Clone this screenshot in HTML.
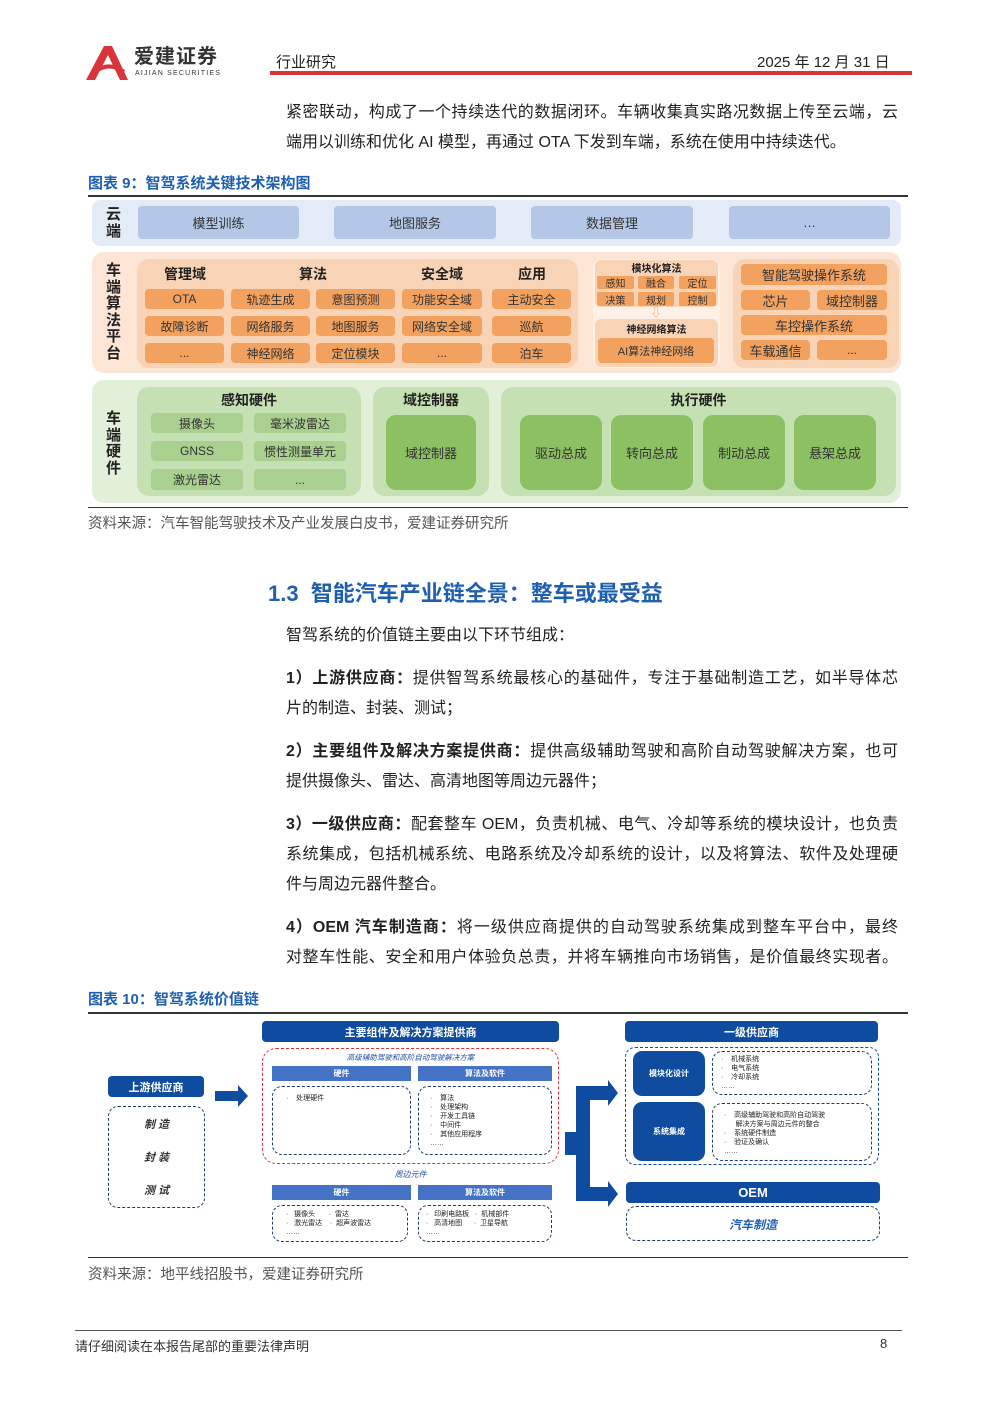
<!DOCTYPE html>
<html><head><meta charset="utf-8"><style>
*{margin:0;padding:0;box-sizing:border-box}
body{width:992px;height:1403px;background:#fff;position:relative;font-family:"Liberation Sans","Noto Sans CJK SC",sans-serif;color:#222;overflow:hidden}
.a{position:absolute}
.c{position:absolute;display:flex;align-items:center;justify-content:center;text-align:center;white-space:nowrap}
.p{position:absolute;left:286px;width:612px;font-size:16px;line-height:30px;text-align:justify;text-align-last:justify;color:#222}
.p.l{text-align-last:left}
.ob{background:#f2a15f;border-radius:4px;font-size:12px;color:#333}
.gb{background:#a9d08e;border-radius:4px;font-size:12px;color:#333}
.gB{background:#8cc063;border-radius:10px;font-size:13px;color:#333}
.bb{background:#b4c7e7;border-radius:4px;font-size:13px;color:#333}
.db{background:#0f4b9f;color:#fff;font-weight:bold;border-radius:4px;font-size:11px}
.mb{background:#4472c4;color:#fff;font-weight:bold;font-size:8px}
.dash{position:absolute;border:1.3px dashed #1f3a6b;border-radius:10px}
.sm{font-size:7px;line-height:9px;color:#222;position:absolute}
</style></head><body>
<!-- header -->
<svg class="a" style="left:86px;top:46px" width="42" height="34"><path d="M0 34 L18 0 L26 0 L42 34 L34 34 L22 9 L9 34Z" fill="#d9343a"/><path d="M6 28 Q22 14 38 26" stroke="#d9343a" stroke-width="4" fill="none"/></svg>
<div class="a" style="left:134px;top:45px;font-size:20px;line-height:24px;font-weight:bold;color:#333;letter-spacing:1px">爱建证券</div>
<div class="a" style="left:135px;top:70px;font-size:7px;line-height:8px;color:#333;letter-spacing:1.2px">AIJIAN SECURITIES</div>
<div class="a" style="left:276px;top:51px;font-size:15px;color:#222">行业研究</div>
<div class="a" style="left:757px;top:51px;font-size:15px;color:#222">2025 年 12 月 31 日</div>
<div class="a" style="left:270px;top:71px;width:642px;height:4px;background:#d9343a"></div>

<div class="p" style="top:98px">紧密联动，构成了一个持续迭代的数据闭环。车辆收集真实路况数据上传至云端，云</div>
<div class="p l" style="top:128px">端用以训练和优化 AI 模型，再通过 OTA 下发到车端，系统在使用中持续迭代。</div>

<div class="a" style="left:88px;top:172px;font-size:15px;font-weight:bold;color:#1f5fb0">图表 9：智驾系统关键技术架构图</div>
<div class="a" style="left:88px;top:195px;width:820px;height:2px;background:#333"></div>

<!-- cloud -->
<div class="a" style="left:92px;top:200px;width:809px;height:46px;background:#e3ebf7;border-radius:8px"></div>
<div class="a" style="left:106px;top:206px;width:18px;font-size:15px;font-weight:bold;line-height:17px">云端</div>
<div class="c bb" style="left:138px;top:206px;width:161px;height:33px">模型训练</div>
<div class="c bb" style="left:334px;top:206px;width:162px;height:33px">地图服务</div>
<div class="c bb" style="left:531px;top:206px;width:162px;height:33px">数据管理</div>
<div class="c bb" style="left:729px;top:206px;width:161px;height:33px">…</div>

<!-- platform -->
<div class="a" style="left:92px;top:252px;width:809px;height:121px;background:#fce5d4;border-radius:12px"></div>
<div class="a" style="left:106px;top:263px;width:18px;font-size:15px;font-weight:bold;line-height:16.5px">车端算法平台</div>
<div class="a" style="left:137px;top:259px;width:441px;height:109px;background:#f9d3b6;border-radius:12px"></div>
<div class="c" style="left:145px;top:264px;width:80px;height:20px;font-size:14px;font-weight:bold">管理域</div>
<div class="c" style="left:231px;top:264px;width:164px;height:20px;font-size:14px;font-weight:bold">算法</div>
<div class="c" style="left:402px;top:264px;width:80px;height:20px;font-size:14px;font-weight:bold">安全域</div>
<div class="c" style="left:492px;top:264px;width:80px;height:20px;font-size:14px;font-weight:bold">应用</div>
<div class="c ob" style="left:145px;top:289px;width:79px;height:20px">OTA</div>
<div class="c ob" style="left:231px;top:289px;width:79px;height:20px">轨迹生成</div>
<div class="c ob" style="left:316px;top:289px;width:79px;height:20px">意图预测</div>
<div class="c ob" style="left:402px;top:289px;width:80px;height:20px">功能安全域</div>
<div class="c ob" style="left:492px;top:289px;width:79px;height:20px">主动安全</div>
<div class="c ob" style="left:145px;top:316px;width:79px;height:20px">故障诊断</div>
<div class="c ob" style="left:231px;top:316px;width:79px;height:20px">网络服务</div>
<div class="c ob" style="left:316px;top:316px;width:79px;height:20px">地图服务</div>
<div class="c ob" style="left:402px;top:316px;width:80px;height:20px">网络安全域</div>
<div class="c ob" style="left:492px;top:316px;width:79px;height:20px">巡航</div>
<div class="c ob" style="left:145px;top:343px;width:79px;height:20px">...</div>
<div class="c ob" style="left:231px;top:343px;width:79px;height:20px">神经网络</div>
<div class="c ob" style="left:316px;top:343px;width:79px;height:20px">定位模块</div>
<div class="c ob" style="left:402px;top:343px;width:80px;height:20px">...</div>
<div class="c ob" style="left:492px;top:343px;width:79px;height:20px">泊车</div>

<div class="a" style="left:593px;top:259px;width:127px;height:109px;background:#fdf0e6;border-radius:8px"></div>
<div class="a" style="left:595px;top:260px;width:123px;height:47px;background:#f9d3b6;border-radius:6px"></div>
<div class="c" style="left:595px;top:261px;width:123px;height:13px;font-size:10px;font-weight:bold">模块化算法</div>
<div class="c ob" style="left:597px;top:276px;width:37px;height:13px;font-size:10px;border-radius:2px">感知</div>
<div class="c ob" style="left:638px;top:276px;width:36px;height:13px;font-size:10px;border-radius:2px">融合</div>
<div class="c ob" style="left:679px;top:276px;width:37px;height:13px;font-size:10px;border-radius:2px">定位</div>
<div class="c ob" style="left:597px;top:292px;width:37px;height:14px;font-size:10px;border-radius:2px">决策</div>
<div class="c ob" style="left:638px;top:292px;width:36px;height:14px;font-size:10px;border-radius:2px">规划</div>
<div class="c ob" style="left:679px;top:292px;width:37px;height:14px;font-size:10px;border-radius:2px">控制</div>
<div class="c" style="left:648px;top:306px;width:16px;height:12px;font-size:11px;color:#f2a15f">⇩</div>
<div class="a" style="left:595px;top:319px;width:123px;height:48px;background:#f9d3b6;border-radius:6px"></div>
<div class="c" style="left:595px;top:321px;width:123px;height:14px;font-size:10px;font-weight:bold">神经网络算法</div>
<div class="c ob" style="left:598px;top:338px;width:116px;height:25px;font-size:11px">AI算法神经网络</div>

<div class="a" style="left:733px;top:259px;width:166px;height:109px;background:#f9d3b6;border-radius:12px"></div>
<div class="c ob" style="left:741px;top:264px;width:146px;height:21px;font-size:13px">智能驾驶操作系统</div>
<div class="c ob" style="left:741px;top:290px;width:69px;height:20px;font-size:13px">芯片</div>
<div class="c ob" style="left:817px;top:290px;width:70px;height:20px;font-size:13px">域控制器</div>
<div class="c ob" style="left:741px;top:315px;width:146px;height:20px;font-size:13px">车控操作系统</div>
<div class="c ob" style="left:741px;top:340px;width:69px;height:20px;font-size:13px">车载通信</div>
<div class="c ob" style="left:817px;top:340px;width:70px;height:20px">...</div>

<!-- hardware -->
<div class="a" style="left:92px;top:380px;width:809px;height:123px;background:#e2efd9;border-radius:12px"></div>
<div class="a" style="left:106px;top:411px;width:18px;font-size:15px;font-weight:bold;line-height:16.5px">车端硬件</div>
<div class="a" style="left:137px;top:387px;width:224px;height:109px;background:#c5e0b3;border-radius:12px"></div>
<div class="c" style="left:137px;top:390px;width:224px;height:20px;font-size:14px;font-weight:bold">感知硬件</div>
<div class="c gb" style="left:151px;top:413px;width:92px;height:20px">摄像头</div>
<div class="c gb" style="left:254px;top:413px;width:92px;height:20px">毫米波雷达</div>
<div class="c gb" style="left:151px;top:441px;width:92px;height:20px">GNSS</div>
<div class="c gb" style="left:254px;top:441px;width:92px;height:20px">惯性测量单元</div>
<div class="c gb" style="left:151px;top:469px;width:92px;height:21px">激光雷达</div>
<div class="c gb" style="left:254px;top:469px;width:92px;height:21px">...</div>
<div class="a" style="left:373px;top:387px;width:116px;height:109px;background:#c5e0b3;border-radius:12px"></div>
<div class="c" style="left:373px;top:390px;width:116px;height:20px;font-size:14px;font-weight:bold">域控制器</div>
<div class="c gB" style="left:386px;top:415px;width:90px;height:75px">域控制器</div>
<div class="a" style="left:501px;top:387px;width:395px;height:109px;background:#c5e0b3;border-radius:12px"></div>
<div class="c" style="left:501px;top:390px;width:395px;height:20px;font-size:14px;font-weight:bold">执行硬件</div>
<div class="c gB" style="left:520px;top:415px;width:82px;height:75px">驱动总成</div>
<div class="c gB" style="left:611px;top:415px;width:82px;height:75px">转向总成</div>
<div class="c gB" style="left:703px;top:415px;width:82px;height:75px">制动总成</div>
<div class="c gB" style="left:794px;top:415px;width:82px;height:75px">悬架总成</div>
<div class="a" style="left:88px;top:507px;width:820px;height:1px;background:#333"></div>
<div class="a" style="left:88px;top:512px;font-size:14.5px;color:#555">资料来源：汽车智能驾驶技术及产业发展白皮书，爱建证券研究所</div>

<div class="a" style="left:268px;top:576px;font-size:22px;font-weight:bold;color:#1f5fb0">1.3&nbsp; 智能汽车产业链全景：整车或最受益</div>
<div class="p l" style="top:621px">智驾系统的价值链主要由以下环节组成：</div>
<div class="p" style="top:664px"><b>1）上游供应商：</b>提供智驾系统最核心的基础件，专注于基础制造工艺，如半导体芯</div>
<div class="p l" style="top:694px">片的制造、封装、测试；</div>
<div class="p" style="top:737px"><b>2）主要组件及解决方案提供商：</b>提供高级辅助驾驶和高阶自动驾驶解决方案，也可</div>
<div class="p l" style="top:767px">提供摄像头、雷达、高清地图等周边元器件；</div>
<div class="p" style="top:810px"><b>3）一级供应商：</b>配套整车 OEM，负责机械、电气、冷却等系统的模块设计，也负责</div>
<div class="p" style="top:840px">系统集成，包括机械系统、电路系统及冷却系统的设计，以及将算法、软件及处理硬</div>
<div class="p l" style="top:870px">件与周边元器件整合。</div>
<div class="p" style="top:913px"><b>4）OEM 汽车制造商：</b>将一级供应商提供的自动驾驶系统集成到整车平台中，最终</div>
<div class="p" style="top:943px">对整车性能、安全和用户体验负总责，并将车辆推向市场销售，是价值最终实现者。</div>

<div class="a" style="left:88px;top:988px;font-size:15px;font-weight:bold;color:#1f5fb0">图表 10：智驾系统价值链</div>
<div class="a" style="left:88px;top:1012px;width:820px;height:2px;background:#333"></div>

<!-- diagram 2 -->
<div class="c db" style="left:108px;top:1076px;width:96px;height:21px;font-size:11px">上游供应商</div>
<div class="dash" style="left:108px;top:1106px;width:97px;height:102px"></div>
<div class="c" style="left:108px;top:1116px;width:97px;height:16px;font-size:11px;font-style:italic;font-weight:bold;color:#333">制 造</div>
<div class="c" style="left:108px;top:1149px;width:97px;height:16px;font-size:11px;font-style:italic;font-weight:bold;color:#333">封 装</div>
<div class="c" style="left:108px;top:1182px;width:97px;height:16px;font-size:11px;font-style:italic;font-weight:bold;color:#333">测 试</div>
<svg class="a" style="left:214px;top:1084px" width="36" height="24"><path d="M1 7 H24 V1 L34 12 L24 23 V17 H1Z" fill="#0f4b9f"/></svg>

<div class="c db" style="left:262px;top:1021px;width:297px;height:21px">主要组件及解决方案提供商</div>
<div class="a" style="left:262px;top:1048px;width:297px;height:116px;border:1.3px dashed #e0303a;border-radius:14px"></div>
<div class="c" style="left:262px;top:1051px;width:297px;height:12px;font-size:7.5px;font-style:italic;color:#1f4fa0">高级辅助驾驶和高阶自动驾驶解决方案</div>
<div class="c mb" style="left:272px;top:1066px;width:139px;height:15px">硬件</div>
<div class="c mb" style="left:418px;top:1066px;width:134px;height:15px">算法及软件</div>
<div class="dash" style="left:272px;top:1086px;width:139px;height:69px"></div>
<div class="dash" style="left:418px;top:1086px;width:134px;height:69px"></div>
<div class="sm" style="left:286px;top:1094px">·&nbsp;&nbsp;&nbsp; 处理硬件</div>
<div class="sm" style="left:430px;top:1094px">·&nbsp;&nbsp;&nbsp; 算法<br>·&nbsp;&nbsp;&nbsp; 处理架构<br>·&nbsp;&nbsp;&nbsp; 开发工具链<br>·&nbsp;&nbsp;&nbsp; 中间件<br>·&nbsp;&nbsp;&nbsp; 其他应用程序<br>……</div>
<div class="c" style="left:262px;top:1168px;width:297px;height:12px;font-size:8px;font-style:italic;color:#1f4fa0">周边元件</div>
<div class="c mb" style="left:272px;top:1185px;width:139px;height:15px">硬件</div>
<div class="c mb" style="left:418px;top:1185px;width:134px;height:15px">算法及软件</div>
<div class="dash" style="left:272px;top:1205px;width:136px;height:37px"></div>
<div class="dash" style="left:418px;top:1205px;width:134px;height:37px"></div>
<div class="sm" style="left:286px;top:1210px">·&nbsp;&nbsp; 摄像头&nbsp;&nbsp;&nbsp;&nbsp;&nbsp;&nbsp; ·&nbsp; 雷达<br>·&nbsp;&nbsp; 激光雷达&nbsp;&nbsp;&nbsp; ·&nbsp; 超声波雷达<br>……</div>
<div class="sm" style="left:426px;top:1210px">·&nbsp;&nbsp; 印刷电路板&nbsp;&nbsp; ·&nbsp; 机械部件<br>·&nbsp;&nbsp; 高清地图&nbsp;&nbsp;&nbsp;&nbsp;&nbsp; ·&nbsp; 卫星导航<br>……</div>

<svg class="a" style="left:565px;top:1078px" width="56" height="130"><path d="M0 54 H11 V8 H43 V2 L53 15 L43 28 V22 H25 V109 H43 V103 L53 116 L43 129 V123 H11 V77 H0Z" fill="#0f4b9f"/></svg>

<div class="c db" style="left:625px;top:1021px;width:253px;height:21px">一级供应商</div>
<div class="dash" style="left:625px;top:1047px;width:254px;height:118px;border-color:#0f4b9f"></div>
<div class="c db" style="left:633px;top:1051px;width:72px;height:45px;font-size:8px;border-radius:9px">模块化设计</div>
<div class="c db" style="left:633px;top:1102px;width:72px;height:59px;font-size:8px;border-radius:9px">系统集成</div>
<div class="dash" style="left:712px;top:1051px;width:160px;height:44px"></div>
<div class="dash" style="left:712px;top:1103px;width:160px;height:58px"></div>
<div class="sm" style="left:721px;top:1055px">·&nbsp;&nbsp;&nbsp; 机械系统<br>·&nbsp;&nbsp;&nbsp; 电气系统<br>·&nbsp;&nbsp;&nbsp; 冷却系统<br>……</div>
<div class="sm" style="left:724px;top:1111px">·&nbsp;&nbsp;&nbsp; 高级辅助驾驶和高阶自动驾驶<br>&nbsp;&nbsp;&nbsp;&nbsp;&nbsp; 解决方案与周边元件的整合<br>·&nbsp;&nbsp;&nbsp; 系统硬件制造<br>·&nbsp;&nbsp;&nbsp; 验证及确认<br>……</div>
<div class="c db" style="left:626px;top:1182px;width:254px;height:21px;font-size:13px">OEM</div>
<div class="dash" style="left:626px;top:1206px;width:254px;height:35px;border-color:#1f3a6b"></div>
<div class="c" style="left:626px;top:1214px;width:254px;height:20px;font-size:12px;font-style:italic;font-weight:bold;color:#1f5fb0">汽车制造</div>

<div class="a" style="left:88px;top:1257px;width:820px;height:1px;background:#333"></div>
<div class="a" style="left:88px;top:1263px;font-size:14.5px;color:#555">资料来源：地平线招股书，爱建证券研究所</div>

<div class="a" style="left:75px;top:1330px;width:827px;height:1px;background:#555"></div>
<div class="a" style="left:75px;top:1336px;font-size:13px;color:#333">请仔细阅读在本报告尾部的重要法律声明</div>
<div class="a" style="left:880px;top:1336px;font-size:13px;color:#333">8</div>
</body></html>
